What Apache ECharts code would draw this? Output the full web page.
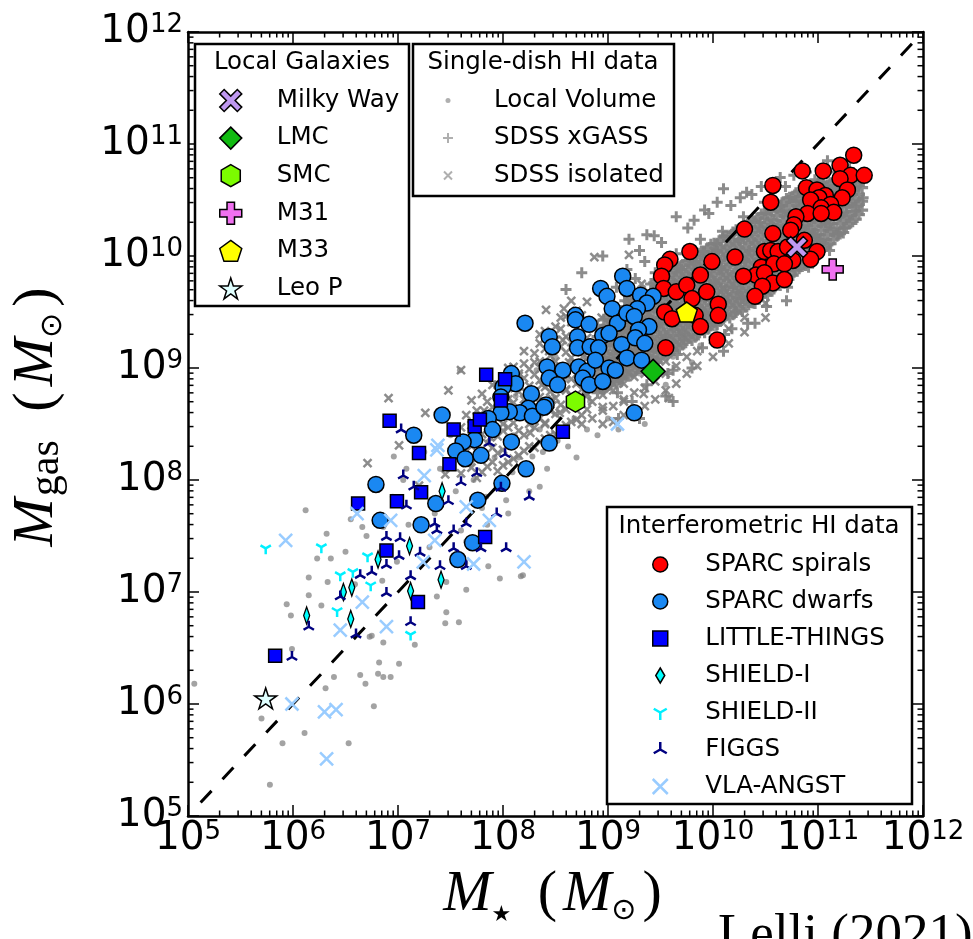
<!DOCTYPE html>
<html>
<head>
<meta charset="utf-8">
<script src="https://cdn.jsdelivr.net/npm/echarts@6/dist/echarts.min.js"></script>
<style>html,body{margin:0;padding:0;background:#fff}#chart{width:973px;height:939px}</style>
</head>
<body>
<div id="chart"></div>
<script>
// ---- DATA (log10 of stellar mass, log10 of gas mass) ----
const xTickExponents = [5, 6, 7, 8, 9, 10, 11, 12];
const yTickExponents = [5, 6, 7, 8, 9, 10, 11, 12];

const sparcSpirals = [[11.34,10.90],[10.85,10.76],[11.05,10.76],[11.21,10.81],[11.31,10.72],[11.44,10.72],[11.21,10.69],[10.57,10.63],[10.89,10.61],[10.99,10.59],[11.07,10.54],[11.28,10.59],[11.23,10.52],[10.55,10.48],[11.01,10.52],[10.93,10.50],[11.12,10.46],[11.03,10.43],[11.15,10.39],[10.90,10.38],[10.79,10.35],[10.77,10.28],[11.03,10.38],[10.30,10.24],[10.57,10.20],[10.74,10.23],[10.87,10.14],[10.49,10.04],[10.55,10.05],[10.62,10.04],[10.71,10.08],[10.99,10.04],[10.93,9.97],[10.76,9.96],[10.46,9.90],[10.58,9.93],[10.68,9.93],[10.21,9.99],[9.99,9.95],[10.41,9.83],[10.49,9.85],[10.29,9.82],[10.57,9.76],[10.68,9.79],[10.47,9.73],[10.40,9.64],[9.78,10.04],[9.59,9.97],[9.54,9.92],[9.51,9.82],[9.88,9.83],[9.53,9.71],[9.65,9.68],[9.75,9.74],[9.80,9.62],[9.94,9.68],[10.05,9.57],[10.05,9.47],[9.54,9.50],[9.61,9.44],[9.83,9.47],[9.88,9.37],[10.04,9.25],[9.55,9.18]];

const sparcDwarfs = [[9.14,9.82],[9.18,9.71],[8.93,9.71],[8.99,9.64],[9.04,9.53],[9.31,9.65],[9.43,9.64],[9.37,9.58],[9.28,9.53],[8.69,9.47],[8.69,9.43],[8.82,9.39],[9.09,9.40],[9.18,9.49],[9.25,9.46],[9.39,9.37],[9.29,9.34],[8.21,9.40],[8.44,9.28],[8.47,9.19],[8.71,9.28],[8.71,9.18],[8.83,9.19],[8.95,9.29],[9.01,9.31],[8.91,9.18],[9.13,9.21],[9.26,9.27],[9.35,9.22],[9.18,9.09],[9.32,9.07],[8.42,9.01],[8.57,8.98],[8.72,9.01],[8.80,8.97],[8.88,9.07],[9.01,9.00],[9.07,8.98],[8.44,8.91],[8.52,8.85],[8.76,8.91],[8.82,8.85],[8.95,8.88],[8.08,8.95],[8.12,8.86],[8.00,8.83],[7.98,8.74],[8.27,8.77],[8.41,8.67],[8.24,8.64],[8.16,8.60],[8.06,8.61],[7.98,8.60],[8.28,8.57],[7.42,8.58],[7.86,8.55],[7.90,8.45],[7.73,8.36],[7.62,8.34],[8.08,8.34],[8.44,8.33],[7.15,8.40],[9.25,8.60],[7.55,8.26],[7.64,8.19],[7.79,8.22],[8.22,8.10],[7.99,7.97],[7.76,7.82],[6.79,7.96],[7.36,7.79],[6.83,7.64],[7.22,7.60],[7.71,7.44],[7.57,7.29],[8.39,8.65]];

const littleThings = [[7.84,8.94],[8.02,8.90],[7.98,8.71],[6.92,8.53],[7.53,8.45],[7.73,8.48],[7.78,8.54],[7.20,8.24],[7.49,8.14],[6.62,7.79],[6.99,7.81],[7.22,7.89],[7.83,7.49],[6.89,7.37],[7.19,6.91],[5.83,6.43],[8.57,8.43]];

const shield1 = [[7.42,7.90],[7.11,7.41],[6.81,7.29],[7.41,7.11],[6.56,7.04],[6.48,7.00],[7.12,7.01],[6.13,6.79],[6.55,6.76]];

const shield2 = [[5.74,7.39],[6.27,7.40],[6.45,7.15],[6.57,7.18],[6.71,7.32],[6.74,7.06],[6.42,6.83],[7.12,6.62]];

const figgs = [[7.03,8.45],[7.87,8.33],[8.02,8.23],[7.05,8.04],[7.60,7.98],[7.75,8.06],[8.25,7.85],[7.98,7.93],[7.15,7.94],[7.08,7.77],[7.48,7.81],[7.94,7.70],[7.35,7.61],[7.37,7.55],[7.53,7.55],[7.65,7.61],[6.89,7.49],[7.02,7.48],[7.53,7.39],[7.79,7.39],[8.03,7.39],[7.21,7.35],[7.40,7.23],[7.65,7.23],[7.01,7.32],[6.89,7.24],[6.64,7.15],[6.75,7.18],[7.12,7.14],[6.45,6.96],[6.89,6.99],[7.12,6.73],[6.60,6.62],[6.15,6.69],[5.99,6.42]];

const vlaAngst = [[5.93,7.46],[7.37,8.27],[7.25,8.04],[6.61,7.70],[6.93,7.64],[7.65,7.76],[7.35,7.46],[7.87,7.64],[7.24,7.27],[7.72,7.25],[8.20,7.27],[6.66,6.91],[6.45,6.66],[6.89,6.69],[5.99,6.00],[6.30,5.93],[6.41,5.95],[6.32,5.51],[9.09,8.50],[7.38,8.31]];

const milkyWay = [[10.80,10.08]];
const lmc = [[9.43,8.97]];
const smc = [[8.69,8.70]];
const m31 = [[11.14,9.88]];
const m33 = [[9.75,9.50]];
const leoP = [[5.74,6.05]];

const localVolume = [[5.06,6.18],[5.78,5.28],[5.70,5.87],[5.90,5.65],[6.11,5.74],[5.99,6.49],[5.94,6.89],[5.98,6.79],[6.27,6.88],[6.31,6.14],[6.39,6.24],[6.53,5.65],[6.64,6.26],[6.69,6.18],[6.77,5.98],[6.73,6.60],[6.82,6.37],[6.81,6.27],[6.86,6.24],[6.93,6.24],[6.86,6.55],[7.01,6.36],[7.16,6.53],[7.46,6.82],[7.58,6.73],[7.65,7.02],[7.45,6.72],[7.37,6.96],[8.17,7.14],[6.75,6.61],[6.15,6.97],[6.33,7.09],[6.59,7.07],[6.99,7.27],[6.12,7.73],[6.32,7.52],[6.50,7.36],[6.23,7.30],[6.15,7.13],[6.36,7.30],[7.59,8.98],[6.96,8.21],[7.08,8.10],[6.86,7.58],[6.66,7.58],[7.24,7.93],[8.19,7.15],[7.86,7.23],[7.97,7.12],[7.46,7.09],[7.64,7.26],[7.84,7.85],[8.03,7.82],[8.28,8.21],[8.35,7.94],[7.72,8.00],[8.09,8.07],[7.40,8.10],[7.55,7.90],[7.70,8.15],[7.80,7.75],[7.92,8.20],[8.00,7.95],[8.10,8.40],[8.20,8.05],[8.28,8.55],[8.38,8.25],[8.45,8.65],[8.52,8.35],[8.60,8.90],[8.68,8.55],[8.75,9.00],[8.83,8.70],[8.90,9.10],[8.98,8.80],[9.05,9.30],[9.12,8.85],[9.20,9.10],[9.30,8.95],[9.40,9.05],[9.50,9.25],[9.62,9.10],[9.75,9.30],[9.88,9.20],[10.02,9.35],[7.60,7.55],[7.85,7.60],[8.05,7.70],[8.25,7.90],[8.42,8.10],[8.62,8.30],[8.80,8.45],[7.50,8.40],[7.75,8.55],[8.12,8.75],[8.32,8.98],[8.50,9.10],[7.35,7.70],[7.10,7.60],[6.95,7.85],[7.25,8.25],[7.05,8.00],[6.90,7.40],[6.70,7.50],[6.55,7.65],[6.85,7.10],[7.30,7.40],[7.65,7.45],[8.15,8.20],[8.35,8.45],[8.70,8.20],[9.00,8.55],[9.25,8.60],[9.55,8.85],[9.80,9.05],[8.90,8.40],[9.10,8.45],[9.35,8.50]];

const sdssXgass = [[9.02,9.05],[9.05,9.48],[9.08,9.72],[9.11,9.21],[9.13,8.92],[9.16,9.60],[9.18,9.88],[9.04,9.30],[9.19,9.38],[9.09,8.78],[9.22,9.15],[9.24,9.52],[9.26,9.80],[9.28,9.02],[9.31,9.66],[9.33,9.30],[9.35,9.95],[9.37,8.85],[9.38,9.45],[9.23,8.70],[9.30,10.05],[9.41,9.20],[9.43,9.58],[9.45,9.85],[9.47,9.05],[9.49,9.40],[9.51,10.12],[9.53,9.70],[9.55,9.28],[9.57,8.95],[9.59,9.55],[9.44,10.18],[9.58,9.92],[9.61,9.38],[9.63,9.75],[9.65,10.02],[9.66,9.12],[9.68,9.50],[9.70,9.88],[9.72,9.25],[9.74,9.62],[9.76,10.25],[9.78,9.42],[9.62,8.98],[9.79,9.80],[9.81,9.55],[9.83,9.95],[9.85,9.30],[9.87,9.70],[9.88,10.15],[9.90,9.18],[9.92,9.48],[9.94,9.85],[9.96,10.38],[9.98,9.62],[9.82,10.32],[9.97,9.38],[10.01,9.75],[10.03,10.05],[10.05,9.42],[10.07,9.88],[10.09,10.22],[10.11,9.30],[10.13,9.60],[10.15,9.98],[10.17,10.45],[10.19,9.72],[10.04,10.48],[10.18,9.35],[10.21,9.50],[10.23,9.85],[10.25,10.15],[10.27,9.62],[10.29,10.35],[10.31,9.95],[10.33,9.40],[10.35,10.05],[10.37,10.55],[10.39,9.78],[10.26,10.52],[10.38,9.58],[10.41,9.68],[10.43,10.02],[10.45,10.30],[10.47,9.80],[10.49,10.48],[10.51,9.55],[10.53,10.12],[10.55,9.90],[10.57,10.65],[10.59,10.22],[10.46,10.62],[10.58,9.72],[10.61,9.85],[10.63,10.18],[10.65,10.45],[10.67,9.95],[10.69,10.62],[10.71,9.72],[10.73,10.28],[10.75,10.05],[10.77,10.72],[10.79,10.38],[10.64,10.70],[10.78,9.88],[10.81,10.00],[10.83,10.32],[10.85,10.55],[10.87,10.12],[10.89,10.75],[10.91,9.90],[10.93,10.42],[10.95,10.20],[10.97,10.68],[10.99,10.05],[11.01,10.15],[11.03,10.48],[11.05,10.70],[11.07,10.30],[11.09,10.85],[11.11,10.05],[11.13,10.58],[11.15,10.38],[11.17,10.75],[11.19,10.20],[11.21,10.35],[11.24,10.62],[11.27,10.45],[11.30,10.78],[11.33,10.55],[11.36,10.40],[11.40,10.68],[11.43,10.52],[11.25,10.25],[9.37,10.19],[9.65,10.35],[9.92,10.41],[10.10,10.60],[10.32,10.57],[8.95,10.00],[9.20,10.15],[8.75,9.85],[8.60,9.70],[9.30,8.55],[9.55,8.75],[9.80,9.00],[10.10,9.15],[10.40,9.40],[10.70,9.60],[9.10,8.55],[9.62,8.70]];

// dense core of the xGASS cloud: [log M*, [log Mgas values at that M*]]
const sdssXgassCoreColumns = [
  [8.90,[8.78,8.87,8.94,9.04,9.11,9.21,9.28,9.38]],
  [8.96,[8.81,8.92,8.99,9.09,9.15,9.26,9.33,9.43]],
  [9.02,[8.85,8.92,9.02,9.09,9.20,9.26,9.37,9.43,9.51]],
  [9.08,[8.87,8.97,9.04,9.15,9.21,9.32,9.38,9.49]],
  [9.14,[8.91,8.98,9.09,9.16,9.26,9.33,9.44,9.51]],
  [9.20,[8.93,9.03,9.10,9.21,9.28,9.38,9.45,9.56,9.62]],
  [9.26,[8.98,9.05,9.15,9.22,9.33,9.39,9.50,9.57]],
  [9.32,[9.00,9.10,9.16,9.27,9.34,9.45,9.51,9.62,9.68]],
  [9.38,[9.04,9.11,9.22,9.28,9.39,9.46,9.57,9.64]],
  [9.44,[9.05,9.15,9.22,9.33,9.40,9.51,9.58,9.69,9.76]],
  [9.50,[9.10,9.17,9.28,9.34,9.45,9.52,9.63,9.70,9.79]],
  [9.56,[9.11,9.22,9.29,9.40,9.47,9.58,9.65,9.76]],
  [9.62,[9.16,9.23,9.34,9.41,9.52,9.59,9.70,9.77,9.87]],
  [9.68,[9.18,9.29,9.36,9.47,9.54,9.65,9.72,9.83,9.90]],
  [9.74,[9.23,9.30,9.41,9.48,9.59,9.66,9.77,9.84,9.95]],
  [9.80,[9.25,9.36,9.43,9.54,9.61,9.72,9.79,9.90,9.97]],
  [9.86,[9.30,9.37,9.48,9.55,9.66,9.73,9.84,9.91,10.02]],
  [9.92,[9.32,9.43,9.50,9.61,9.68,9.79,9.86,9.97,10.04]],
  [9.98,[9.38,9.45,9.56,9.63,9.74,9.81,9.92,9.99,10.10]],
  [10.04,[9.39,9.50,9.57,9.68,9.75,9.86,9.93,10.04,10.11]],
  [10.10,[9.44,9.51,9.62,9.69,9.80,9.87,9.98,10.05,10.17]],
  [10.16,[9.45,9.56,9.63,9.74,9.81,9.92,9.99,10.10,10.18]],
  [10.22,[9.50,9.57,9.68,9.75,9.86,9.93,10.04,10.11,10.23]],
  [10.28,[9.51,9.62,9.69,9.80,9.87,9.98,10.05,10.16,10.24]],
  [10.34,[9.57,9.64,9.75,9.82,9.93,10.00,10.11,10.18,10.30]],
  [10.40,[9.58,9.69,9.76,9.87,9.94,10.05,10.12,10.23,10.31]],
  [10.46,[9.64,9.71,9.82,9.89,10.00,10.07,10.18,10.25,10.37]],
  [10.52,[9.65,9.76,9.83,9.94,10.01,10.12,10.19,10.30,10.38]],
  [10.58,[9.71,9.78,9.89,9.96,10.07,10.14,10.25,10.32,10.44]],
  [10.64,[9.74,9.85,9.92,10.03,10.10,10.21,10.28,10.39,10.45]],
  [10.70,[9.80,9.87,9.98,10.05,10.16,10.23,10.34,10.41,10.51]],
  [10.76,[9.83,9.94,10.01,10.12,10.19,10.30,10.37,10.48,10.53]],
  [10.82,[9.89,9.96,10.07,10.14,10.25,10.32,10.43,10.50,10.58]],
  [10.88,[9.92,10.03,10.10,10.21,10.28,10.39,10.46,10.57]],
  [10.94,[9.99,10.06,10.17,10.24,10.35,10.42,10.53,10.60]],
  [11.00,[10.01,10.12,10.19,10.30,10.37,10.48,10.55,10.65]],
  [11.06,[10.08,10.15,10.26,10.33,10.44,10.51,10.62]],
  [11.12,[10.11,10.22,10.29,10.40,10.47,10.58,10.65]],
  [11.18,[10.18,10.25,10.36,10.43,10.54,10.61]],
  [11.24,[10.21,10.32,10.39,10.50,10.57,10.68]],
  [11.30,[10.29,10.36,10.47,10.54,10.65]],
  [11.36,[10.33,10.44,10.51,10.62]],
  [11.42,[10.41,10.49,10.61]]
];

// more of the xGASS core, between the columns above
const sdssXgassCoreColumnsB = [
  [8.93,[8.82,8.90,8.99,9.07,9.16,9.24,9.33]],
  [8.99,[8.84,8.95,9.03,9.12,9.20,9.29,9.38,9.45]],
  [9.05,[8.88,8.96,9.06,9.13,9.23,9.30,9.40,9.47]],
  [9.11,[8.90,9.00,9.07,9.18,9.25,9.35,9.42,9.51]],
  [9.17,[8.94,9.01,9.12,9.19,9.30,9.36,9.47,9.54]],
  [9.23,[8.96,9.06,9.13,9.24,9.31,9.41,9.49,9.59]],
  [9.29,[9.00,9.08,9.18,9.26,9.36,9.43,9.54,9.61]],
  [9.35,[9.02,9.12,9.20,9.31,9.38,9.48,9.56,9.66]],
  [9.41,[9.06,9.14,9.25,9.32,9.43,9.50,9.61,9.69,9.75]],
  [9.47,[9.08,9.19,9.26,9.37,9.44,9.55,9.62,9.73,9.79]],
  [9.53,[9.13,9.21,9.31,9.39,9.49,9.57,9.67,9.75]],
  [9.59,[9.14,9.25,9.32,9.43,9.50,9.61,9.68,9.79,9.85]],
  [9.65,[9.20,9.27,9.38,9.45,9.56,9.63,9.74,9.81,9.89]],
  [9.71,[9.21,9.32,9.39,9.50,9.57,9.68,9.75,9.86,9.92]],
  [9.77,[9.27,9.34,9.45,9.52,9.63,9.70,9.81,9.88,9.96]],
  [9.83,[9.28,9.39,9.46,9.57,9.64,9.75,9.82,9.93,10.00]],
  [9.89,[9.34,9.41,9.52,9.59,9.70,9.77,9.88,9.95,10.04]],
  [9.95,[9.35,9.46,9.53,9.64,9.71,9.82,9.89,10.00,10.07]],
  [10.01,[9.41,9.48,9.59,9.66,9.77,9.84,9.95,10.02,10.11]],
  [10.07,[9.42,9.53,9.60,9.71,9.78,9.89,9.96,10.07,10.14]],
  [10.13,[9.47,9.54,9.65,9.72,9.83,9.90,10.01,10.08,10.17]],
  [10.19,[9.48,9.59,9.66,9.77,9.84,9.95,10.02,10.13,10.21]],
  [10.25,[9.53,9.60,9.71,9.78,9.89,9.96,10.07,10.14,10.24]],
  [10.31,[9.55,9.65,9.72,9.83,9.90,10.01,10.08,10.19,10.27]],
  [10.37,[9.59,9.67,9.78,9.85,9.96,10.03,10.14,10.21,10.32]],
  [10.43,[9.62,9.72,9.79,9.90,9.97,10.08,10.15,10.26,10.34]],
  [10.49,[9.67,9.74,9.85,9.92,10.03,10.10,10.21,10.28,10.38]],
  [10.55,[9.69,9.79,9.86,9.97,10.04,10.15,10.22,10.33,10.41]],
  [10.61,[9.74,9.82,9.91,10.00,10.09,10.18,10.27,10.36,10.44]],
  [10.67,[9.78,9.86,9.95,10.04,10.13,10.22,10.31,10.40,10.48]],
  [10.73,[9.82,9.91,10.00,10.09,10.18,10.27,10.36,10.45,10.52]],
  [10.79,[9.87,9.95,10.04,10.13,10.22,10.31,10.40,10.49,10.56]],
  [10.85,[9.91,10.00,10.09,10.18,10.27,10.36,10.45,10.53]],
  [10.91,[9.96,10.04,10.13,10.22,10.31,10.40,10.49,10.58]],
  [10.97,[10.00,10.09,10.18,10.27,10.36,10.45,10.54,10.62]],
  [11.03,[10.05,10.14,10.23,10.32,10.41,10.50,10.59,10.66]],
  [11.09,[10.10,10.19,10.28,10.37,10.46,10.55,10.63]],
  [11.15,[10.15,10.24,10.33,10.42,10.51,10.60,10.67]],
  [11.21,[10.20,10.29,10.38,10.47,10.56,10.65]],
  [11.27,[10.26,10.35,10.44,10.53,10.62]],
  [11.33,[10.31,10.40,10.49,10.58,10.66]],
  [11.39,[10.37,10.46,10.55,10.63]]
];

const sdssIsolated = [[6.91,8.73],[7.26,8.60],[7.48,8.80],[6.71,8.15],[7.01,8.31],[7.60,8.98],[8.41,9.52],[8.58,9.53],[8.87,9.99],[9.20,10.01],[9.34,8.77],[9.58,8.73],[7.20,7.95],[7.70,8.30],[7.45,8.05],[7.90,8.45],[7.82,8.62],[7.88,8.38],[7.95,8.85],[8.00,8.50],[8.05,8.72],[8.10,8.35],[8.15,8.95],[8.18,8.58],[8.22,8.78],[8.26,8.42],[8.30,9.05],[8.33,8.65],[8.37,8.85],[8.40,8.50],[8.44,9.15],[8.47,8.72],[8.50,8.95],[8.54,8.60],[8.57,9.25],[8.60,8.80],[8.63,9.05],[8.66,8.68],[8.70,9.30],[8.73,8.88],[8.76,9.10],[8.79,8.75],[8.82,9.40],[8.85,8.95],[8.88,9.20],[8.91,8.82],[8.94,9.45],[8.97,9.05],[9.00,9.25],[9.03,8.90],[9.06,9.55],[9.09,9.15],[9.12,9.35],[9.15,8.98],[9.18,9.62],[9.22,9.25],[9.25,9.48],[9.28,9.10],[9.32,9.75],[9.36,9.32],[9.40,9.55],[9.45,9.18],[9.50,9.80],[9.55,9.42],[9.60,9.20],[9.65,9.55],[9.70,9.32],[9.80,9.45],[9.90,9.62],[10.00,9.50],[10.10,9.70],[10.25,9.65],[10.40,9.85],[8.35,9.30],[8.55,9.45],[8.20,9.15],[8.65,9.60],[8.05,9.00],[7.85,8.95],[8.45,8.30],[8.75,8.50],[8.95,8.65],[9.15,8.70]];

// lower-mass part of the SDSS isolated cloud: [log M*, [log Mgas values]]
const sdssIsolatedColumns = [
  [7.60,[8.06,8.24,8.47]],
  [7.70,[8.11,8.32,8.49,8.71]],
  [7.80,[8.07,8.23,8.41,8.57,8.77]],
  [7.90,[8.16,8.29,8.49,8.65,8.85]],
  [8.00,[8.13,8.27,8.44,8.59,8.78,8.91]],
  [8.10,[8.19,8.37,8.51,8.69,8.84,9.01]],
  [8.20,[8.26,8.40,8.58,8.72,8.91,9.04]],
  [8.30,[8.29,8.47,8.61,8.79,8.94,9.13]],
  [8.40,[8.37,8.51,8.69,8.83,9.02,9.17,9.33]],
  [8.50,[8.41,8.59,8.73,8.91,9.06,9.25,9.37]],
  [8.60,[8.49,8.63,8.81,8.95,9.14,9.28,9.46]],
  [8.70,[8.54,8.72,8.86,9.04,9.18,9.36,9.51]],
  [8.80,[8.63,8.77,8.95,9.09,9.27,9.41,9.59]]
];

// further SDSS isolated points (lower edge of the band and low-mass tail)
const sdssIsolatedColumnsB = [
  [7.65,[8.15,8.36,8.58]],
  [7.75,[8.02,8.20,8.40,8.62]],
  [7.85,[8.12,8.33,8.52,8.70]],
  [7.95,[8.08,8.24,8.39,8.56,8.74]],
  [8.05,[8.16,8.31,8.47,8.64,8.82,8.96]],
  [8.15,[8.22,8.44,8.63,8.79,8.93]],
  [8.25,[8.30,8.50,8.66,8.84,8.99]],
  [8.35,[8.34,8.55,8.74,8.89,9.06,9.22]],
  [8.45,[8.40,8.62,8.79,8.97,9.11,9.28]],
  [8.55,[8.46,8.67,8.85,9.01,9.19,9.35]],
  [8.65,[8.52,8.75,8.90,9.09,9.23,9.41]],
  [8.75,[8.58,8.81,8.97,9.14,9.31,9.47]],
  [8.85,[8.55,8.70,8.85,9.00]],
  [8.95,[8.50,8.62,8.76,8.90]],
  [9.05,[8.52,8.66,8.80]],
  [9.15,[8.58,8.72,8.86]],
  [9.25,[8.62,8.78,8.92]],
  [9.35,[8.66,8.82,8.95]],
  [9.45,[8.72,8.88,9.00]],
  [9.55,[8.80,8.95,9.06]],
  [9.65,[8.86,9.02]],
  [9.75,[8.95,9.10]],
  [9.85,[9.02,9.15]],
  [10.00,[9.10,9.25]],
  [10.15,[9.22,9.35]],
  [10.30,[9.32,9.45]],
  [10.50,[9.45,9.58]]
];

const oneToOne = [[5.12,5.12],[12,12]];

// ---- helpers ----
const lin = arr => arr.map(p => [Math.pow(10, p[0]), Math.pow(10, p[1])]);
const fromColumns = cols => { const out = []; cols.forEach(c => c[1].forEach(y => out.push([c[0], y]))); return out; };

const P_PLUS = 'path://M5,0L5,10M0,5L10,5';
const P_X = 'path://M0,0L10,10M10,0L0,10';
const P_TRI_DOWN = 'path://M10,10L10,20M10,10L1.34,5M10,10L18.66,5M10,0L10,0';
const P_TRI_UP = 'path://M10,10L10,0M10,10L1.34,15M10,10L18.66,15M10,20L10,20';
const P_THIN_DIAMOND = 'path://M3,0L6,5L3,10L0,5Z';
const P_FAT_X = 'path://M2,0L5,3L8,0L10,2L7,5L10,8L8,10L5,7L2,10L0,8L3,5L0,2Z';
const P_FAT_PLUS = 'path://M3.3,0H6.7V3.3H10V6.7H6.7V10H3.3V6.7H0V3.3H3.3Z';
const P_HEX = 'path://M5,0L9.33,2.5L9.33,7.5L5,10L0.67,7.5L0.67,2.5Z';
const P_PENT = 'path://M5,0L9.76,3.45L7.94,9.05L2.06,9.05L0.24,3.45Z';
const P_STAR = 'path://M5,0L6.12,3.45L9.76,3.45L6.82,5.59L7.94,9.05L5,6.91L2.06,9.05L3.18,5.59L0.24,3.45L3.88,3.45Z';
const ICON_DOT = 'path://M0,0L0,0M10,10L10,10M7.5,5A2.5,2.5,0,1,1,2.5,5A2.5,2.5,0,1,1,7.5,5Z';
const ICON_SMALLX = 'path://M1,1L9,9M9,1L1,9M0,0L0,0M10,10L10,10';

const GRAY = 'rgba(128,128,128,0.9)';
const EDGE = '#000';

function filled(name, data, symbol, size, color, z) {
  return { name, type: 'scatter', data: lin(data), symbol, symbolSize: size, symbolKeepAspect: true,
    itemStyle: { color, borderColor: EDGE, borderWidth: 1.5, opacity: 1 }, z: z || 4, silent: true };
}
function stroked(name, data, symbol, size, color, lw, z) {
  return { name, type: 'scatter', data: lin(data), symbol, symbolSize: size, symbolKeepAspect: true,
    itemStyle: { color: 'rgba(0,0,0,0)', borderColor: color, borderWidth: lw, opacity: 1 }, z: z || 4, silent: true };
}

const minorMant = [2, 3, 4, 5, 6, 7, 8, 9];
const xMinor = [], yMinor = [];
for (let i = 0; i < xTickExponents.length - 1; i++) minorMant.forEach(m => xMinor.push([m * Math.pow(10, xTickExponents[i]), 1e5]));
for (let i = 0; i < yTickExponents.length - 1; i++) minorMant.forEach(m => yMinor.push([1e5, m * Math.pow(10, yTickExponents[i])]));

const tickRich = {
  b: { fontFamily: 'DejaVu Sans', fontSize: 39, lineHeight: 40, color: '#000', verticalAlign: 'middle' },
  s: { fontFamily: 'DejaVu Sans', fontSize: 26, lineHeight: 25, color: '#000', verticalAlign: 'top' }
};
function fmt(exps) {
  return function (v) {
    const e = Math.round(Math.log10(v));
    return exps.indexOf(e) >= 0 ? '{b|10}{s|' + e + '}' : '';
  };
}
const nameRich = {
  m: { fontFamily: 'Liberation Serif', fontStyle: 'italic', fontSize: 58, lineHeight: 62, color: '#000', verticalAlign: 'middle' },
  p: { fontFamily: 'Liberation Serif', fontSize: 58, lineHeight: 62, color: '#000', verticalAlign: 'middle', padding: [0, 6, 0, 6] },
  sp: { fontFamily: 'Liberation Serif', fontSize: 58, lineHeight: 62, color: '#000', verticalAlign: 'middle', padding: [0, 3, 0, 3] },
  sub: { fontFamily: 'Liberation Serif', fontSize: 42, lineHeight: 36, color: '#000', verticalAlign: 'bottom', padding: [0, 2, 0, 2] },
  sym: { fontFamily: 'DejaVu Sans', fontSize: 30, lineHeight: 34, color: '#000', verticalAlign: 'bottom' },
  star: { fontFamily: 'DejaVu Sans', fontSize: 22, lineHeight: 30, color: '#000', verticalAlign: 'bottom' }
};

const axisCommon = {
  type: 'log', logBase: 10, min: 1e5, max: 1e12, splitNumber: 7,
  axisLine: { show: true, onZero: false, lineStyle: { color: '#000', width: 2.5 } },
  axisTick: { show: true, inside: true, length: 11, lineStyle: { color: '#000', width: 1.5 } },
  splitLine: { show: false }, minorTick: { show: false }
};

function minorRender(isX) {
  return function (params, api) {
    const v0 = api.value(0), v1 = api.value(1);
    let a, b;
    if (isX) { a = api.coord([v0, 1e5]); b = api.coord([v0, 1e12]); }
    else { a = api.coord([1e5, v1]); b = api.coord([1e12, v1]); }
    const st = { stroke: '#000', lineWidth: 1.5 };
    const L = 5.5;
    return { type: 'group', children: isX ? [
      { type: 'line', shape: { x1: a[0], y1: a[1], x2: a[0], y2: a[1] - L }, style: st },
      { type: 'line', shape: { x1: b[0], y1: b[1], x2: b[0], y2: b[1] + L }, style: st }
    ] : [
      { type: 'line', shape: { x1: a[0], y1: a[1], x2: a[0] + L, y2: a[1] }, style: st },
      { type: 'line', shape: { x1: b[0], y1: b[1], x2: b[0] - L, y2: b[1] }, style: st }
    ] };
  };
}

const LEG_FONT = 24.5;
const legendText = (pad) => ({ fontFamily: 'DejaVu Sans', fontSize: LEG_FONT, color: '#000', lineHeight: 24, padding: [0, 0, 0, pad] });
const titleStyle = (t) => ({ text: t, font: LEG_FONT + 'px "DejaVu Sans"', fill: '#000', align: 'center', verticalAlign: 'middle', textAlign: 'center', textVerticalAlign: 'middle' });

const option = {
  animation: false,
  backgroundColor: '#fff',
  grid: { left: 183, top: 32, width: 740, height: 784, containLabel: false },
  xAxis: [
    Object.assign({}, axisCommon, { position: 'bottom',
      axisLabel: { show: true, margin: 3, formatter: fmt(xTickExponents), rich: tickRich },
      name: '{m|M}{star|★}{sp| }{p|(}{m|M}{sym|⊙}{p|)}', nameLocation: 'middle', nameGap: 48,
      nameTextStyle: { rich: nameRich } }),
    Object.assign({}, axisCommon, { position: 'top', axisLabel: { show: false } })
  ],
  yAxis: [
    Object.assign({}, axisCommon, { position: 'left',
      axisLabel: { show: true, margin: 5, formatter: fmt(yTickExponents), rich: tickRich },
      name: '{m|M}{sub|gas}{sp| }{p|(}{m|M}{sym|⊙}{p|)}', nameLocation: 'middle', nameGap: 120, nameRotate: 90,
      nameTextStyle: { rich: nameRich, padding: [0, 0, 0, 20] } }),
    Object.assign({}, axisCommon, { position: 'right', axisLabel: { show: false } })
  ],
  graphic: [
    { type: 'rect', shape: { x: 195, y: 44, width: 214, height: 262 }, style: { fill: '#fff', stroke: '#000', lineWidth: 2.5 }, z: 50 },
    { type: 'rect', shape: { x: 413, y: 44, width: 261, height: 152 }, style: { fill: '#fff', stroke: '#000', lineWidth: 2.5 }, z: 50 },
    { type: 'rect', shape: { x: 607, y: 507, width: 305, height: 297 }, style: { fill: '#fff', stroke: '#000', lineWidth: 2.5 }, z: 50 },
    { type: 'text', x: 302, y: 63, style: titleStyle('Local Galaxies'), z: 51 },
    { type: 'text', x: 543, y: 63, style: titleStyle('Single-dish HI data'), z: 51 },
    { type: 'text', x: 759, y: 527, style: titleStyle('Interferometric HI data'), z: 51 },
    { type: 'text', x: 718, y: 910, style: { text: 'Lelli (2021)', font: '53px "Liberation Serif"', fill: '#000', align: 'left', verticalAlign: 'top', textAlign: 'left', textVerticalAlign: 'top' }, z: 51 }
  ],
  legend: [
    { z: 60, left: 219, top: 88, orient: 'vertical', padding: 0, itemWidth: 22, itemHeight: 22, itemGap: 12.6, selectedMode: false,
      textStyle: legendText(30), itemStyle: { borderWidth: 1.5 },
      data: ['Milky Way', 'LMC', 'SMC', 'M31', 'M33', 'Leo P'] },
    { z: 60, left: 442, top: 88, orient: 'vertical', padding: 0, itemWidth: 10, itemHeight: 10, itemGap: 12.5, selectedMode: false,
      textStyle: legendText(36),
      data: [ { name: 'Local Volume', icon: ICON_DOT, itemStyle: { opacity: 0.7 } }, { name: 'SDSS xGASS', itemStyle: { borderWidth: 2, opacity: 0.7 } }, { name: 'SDSS isolated', icon: ICON_SMALLX, itemStyle: { borderWidth: 2, opacity: 0.7 } } ] },
    { z: 60, left: 651.5, top: 552, orient: 'vertical', padding: 0, itemWidth: 15, itemHeight: 15, itemGap: 12.0, selectedMode: false,
      textStyle: legendText(32.5), itemStyle: { borderWidth: 1.5 },
      data: ['SPARC spirals', 'SPARC dwarfs', 'LITTLE-THINGS', 'SHIELD-I',
        { name: 'SHIELD-II', itemStyle: { borderWidth: 2.5 } }, { name: 'FIGGS', itemStyle: { borderWidth: 2.5 } }, { name: 'VLA-ANGST', itemStyle: { borderWidth: 2.5 } }] }
  ],
  series: [
    stroked('SDSS xGASS', sdssXgass, P_PLUS, 11, GRAY, 3, 2),
    stroked('SDSS xGASS', fromColumns(sdssXgassCoreColumns).concat(fromColumns(sdssXgassCoreColumnsB)), P_PLUS, 12, GRAY, 3.2, 2),
    stroked('SDSS isolated', sdssIsolated.concat(fromColumns(sdssIsolatedColumns), fromColumns(sdssIsolatedColumnsB)), P_X, 8, GRAY, 2.5, 2),
    { name: 'Local Volume', type: 'scatter', data: lin(localVolume), symbol: 'circle', symbolSize: 6, itemStyle: { color: GRAY }, z: 2, silent: true },
    { name: 'one-to-one', type: 'line', data: lin(oneToOne), symbol: 'none', lineStyle: { color: '#000', width: 3, type: [16, 16] }, z: 3, silent: true },
    filled('SPARC spirals', sparcSpirals, 'circle', 16, '#ff0000', 4),
    filled('SPARC dwarfs', sparcDwarfs, 'circle', 16, '#1a88f2', 4),
    filled('LITTLE-THINGS', littleThings, 'rect', 13, '#0000ff', 4),
    filled('SHIELD-I', shield1, P_THIN_DIAMOND, [10, 17], '#00ffff', 4),
    stroked('SHIELD-II', shield2, P_TRI_DOWN, 12, '#00f0ff', 2.5, 4),
    stroked('FIGGS', figgs, P_TRI_UP, 12, '#000080', 2.5, 4),
    stroked('VLA-ANGST', vlaAngst, P_X, 13, '#99ccff', 2.5, 4),
    filled('Milky Way', milkyWay, P_FAT_X, 21, '#bf98f0', 5),
    filled('LMC', lmc, 'diamond', 24, '#11bb11', 5),
    filled('SMC', smc, P_HEX, 21, '#7cfc00', 5),
    filled('M31', m31, P_FAT_PLUS, 21, '#f070f0', 5),
    filled('M33', m33, P_PENT, 21, '#ffff00', 5),
    filled('Leo P', leoP, P_STAR, 22, '#e0ffff', 5),
    { name: 'xminor', type: 'custom', data: xMinor, renderItem: minorRender(true), z: 6, silent: true },
    { name: 'yminor', type: 'custom', data: yMinor, renderItem: minorRender(false), z: 6, silent: true }
  ]
};

const chart = echarts.init(document.getElementById('chart'), null, { renderer: 'canvas' });
chart.setOption(option);
</script>
</body>
</html>
